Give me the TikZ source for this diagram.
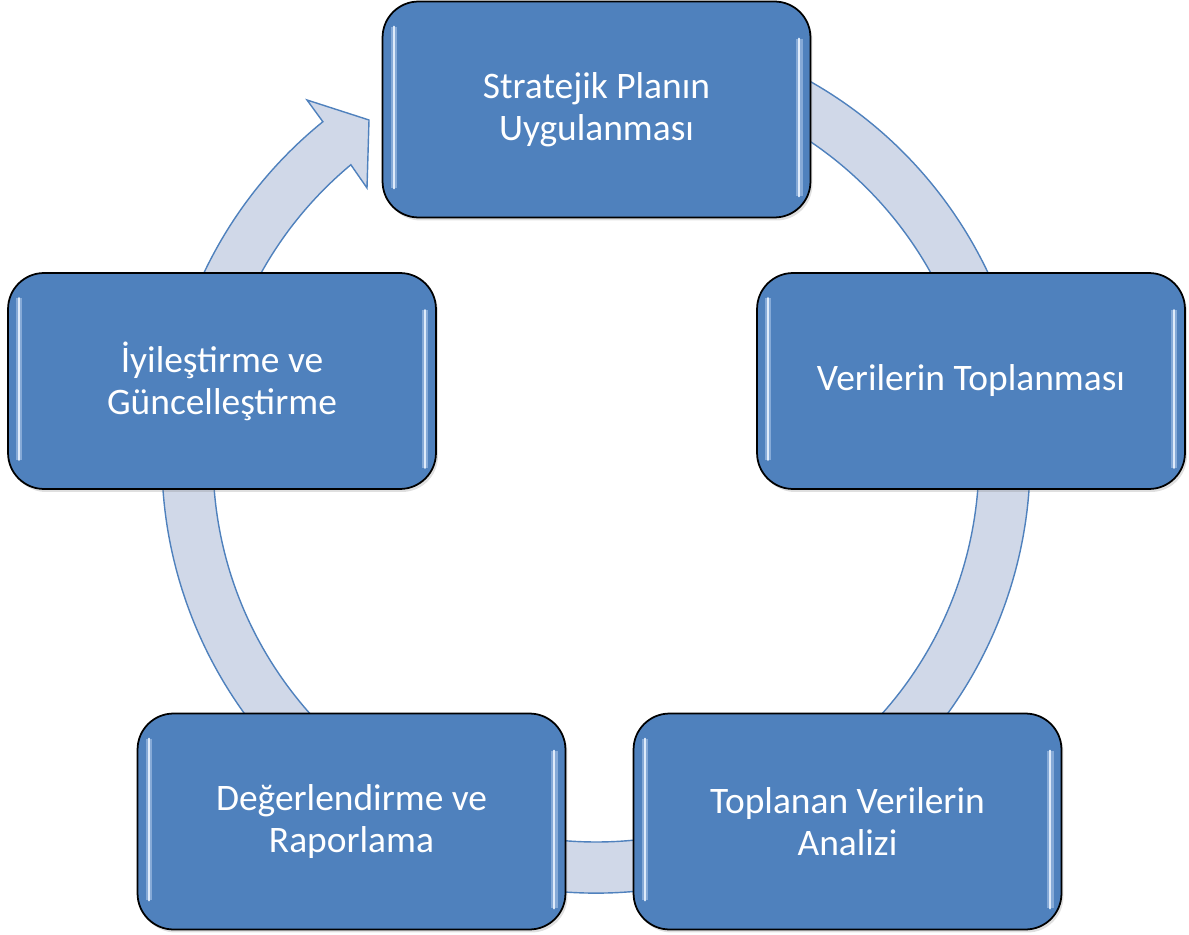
\documentclass[tikz,border=0pt]{standalone}
\usepackage{fontspec}
\setmainfont{Carlito}
\usetikzlibrary{calc,shadows}
\definecolor{boxblue}{HTML}{4F81BD}
\definecolor{bandfill}{HTML}{D0D8E8}
\definecolor{glint}{HTML}{C9DEF7}
\tikzset{
  stepbox/.style={draw=black, line width=1pt, fill=boxblue, rounded corners=0.72cm,
    minimum width=8.56cm, minimum height=4.32cm, align=center, text=white,
    font=\fontsize{21.3}{24}\selectfont,
    drop shadow={shadow xshift=0.04cm, shadow yshift=-0.06cm, opacity=0.25}},
  band/.style={fill=bandfill, draw=boxblue, line width=0.8pt},
  glint/.style={draw=white!40!glint, line width=1.3pt, line cap=round,
    preaction={draw=glint, line width=3.6pt, opacity=0.45}}
}
\begin{document}
\begin{tikzpicture}[x=0.02cm, y=0.02cm]
  \useasboundingbox (0,0) rectangle (1189,934);
  \coordinate (c) at (596,475);

  \draw[band] ($(c)+(70:434)$) arc[start angle=70, end angle=-231, radius=434]
    -- (307,834) -- (369,814) -- (367,746) -- ($(c)+(-230.2:383)$)
    arc[start angle=-230.2, end angle=70, radius=383] -- cycle;

  \node[stepbox] (plan) at (596.5,824.5) {Stratejik Planın\\Uygulanması};
  \node[stepbox] (toplama) at (971,553) {Verilerin Toplanması};
  \node[stepbox] (analiz) at (847.5,112.5) {Toplanan Verilerin\\Analizi};
  \node[stepbox] (rapor) at (351.5,112.5) {Değerlendirme ve\\Raporlama};
  \node[stepbox] (iyilestirme) at (222,553) {İyileştirme ve\\Güncelleştirme};

  \foreach \n in {plan,toplama,analiz,rapor,iyilestirme}{
    \draw[glint] ([shift={(12,-26)}]\n.north west) -- ([shift={(12,30)}]\n.south west);
    \draw[glint] ([shift={(-12,-38)}]\n.north east) -- ([shift={(-12,22)}]\n.south east);
  }
\end{tikzpicture}
\end{document}
